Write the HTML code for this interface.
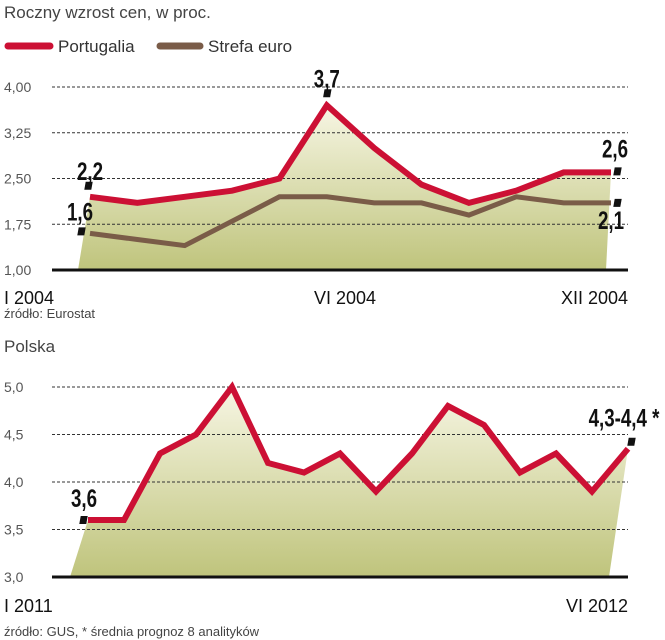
<!DOCTYPE html>
<html><head><meta charset="utf-8"><style>
html,body{margin:0;padding:0;background:#fff;}
svg{display:block;font-family:"Liberation Sans",sans-serif;}
</style></head><body>
<svg id="s" width="665" height="640" viewBox="0 0 665 640">
<defs>
<linearGradient id="g" x1="0" y1="0" x2="0" y2="1">
<stop offset="0" stop-color="#f7f6e4"/><stop offset="1" stop-color="#bfc47c"/>
</linearGradient>
</defs>
<text x="4" y="18" font-size="17" fill="#444">Roczny wzrost cen, w proc.</text>
<g>
<line x1="8" y1="46" x2="50" y2="46" stroke="#cc1034" stroke-width="7" stroke-linecap="round"/>
<text x="58" y="52" font-size="17" fill="#333">Portugalia</text>
<line x1="160" y1="46" x2="200" y2="46" stroke="#7a5c48" stroke-width="7" stroke-linecap="round"/>
<text x="208" y="52" font-size="17" fill="#333">Strefa euro</text>
</g>
<g id="top"></g>
<text x="4" y="318" font-size="13" fill="#444">źródło: Eurostat</text>
<text x="4" y="352" font-size="17" fill="#444">Polska</text>
<g id="bot"></g>
<text x="4" y="636" font-size="13" fill="#444">źródło: GUS, * średnia prognoz 8 analityków</text>
</svg>
<script>
const topTicks=["4,00","3,25","2,50","1,75","1,00"];
const topTickVals=[4,3.25,2.5,1.75,1];
const portugal=[2.2,2.1,2.2,2.3,2.5,3.7,3.0,2.4,2.1,2.3,2.6,2.6];
const euro=[1.6,1.5,1.4,1.8,2.2,2.2,2.1,2.1,1.9,2.2,2.1,2.1];
const topXLabels=["I 2004","VI 2004","XII 2004"];
const botTicks=["5,0","4,5","4,0","3,5","3,0"];
const botTickVals=[5,4.5,4,3.5,3];
const polska=[3.6,3.6,4.3,4.5,5.0,4.2,4.1,4.3,3.9,4.3,4.8,4.6,4.1,4.3,3.9,4.35];
const botXLabels=["I 2011","VI 2012"];
const NS="http://www.w3.org/2000/svg";
function mk(p,t,a){const e=document.createElementNS(NS,t);for(const k in a)e.setAttribute(k,a[k]);p.appendChild(e);return e;}
function chart(g,cfg){
 const y=v=>cfg.y0+(cfg.vmax-v)/(cfg.vmax-cfg.vmin)*(cfg.y1-cfg.y0);
 const n=cfg.series[0].length;
 const x=i=>cfg.x0+i*(cfg.x1-cfg.x0)/(n-1);
 const top=cfg.series[0];
 let d=`M${cfg.fl},${y(cfg.vmin)} L${x(0)},${y(top[0])}`;
 top.forEach((v,i)=>{d+=` L${x(i)},${y(v)}`;});
 d+=` L${cfg.fr},${y(cfg.vmin)} Z`;
 const f=mk(g,"path",{d,fill:"url(#g)"});
 
 
 cfg.tickVals.forEach((v,i)=>{
  if(v!==cfg.vmin){const l=mk(g,"line",{x1:cfg.gx0,x2:cfg.gx1,y1:y(v),y2:y(v),stroke:"#333","stroke-width":1,"stroke-dasharray":"3,2"});
  
  }
  const t=mk(g,"text",{x:4,y:y(v)+5,"font-size":14,fill:"#555"});t.textContent=cfg.ticks[i];
  
  
 });
 const b=mk(g,"line",{x1:cfg.gx0,x2:cfg.gx1,y1:y(cfg.vmin),y2:y(cfg.vmin),stroke:"#111","stroke-width":3});
 
 
 cfg.series.slice().reverse().forEach((s,k)=>{
  const idx=cfg.series.length-1-k;
  const pl=mk(g,"polyline",{points:s.map((v,i)=>x(i)+","+y(v)).join(" "),fill:"none",stroke:cfg.colors[idx],"stroke-width":cfg.widths[idx],"stroke-linejoin":"miter"});
  
  
 });
 cfg.xlabels.forEach((l,i)=>{
  const t=mk(g,"text",{x:cfg.xlx[i],y:cfg.xly,"font-size":18,fill:"#111","text-anchor":cfg.xla[i]});t.textContent=l;
  
  
 });
 cfg.anns.forEach(a=>{
  const s=cfg.series[a.s];const px=x(a.i),py=y(s[a.i]);
  const m=mk(g,"rect",{x:px+a.mx-3,y:py+a.my-4,width:7,height:8,fill:"#111",transform:`skewX(-10)`,"transform-origin":`${px+a.mx} ${py+a.my}`});
  
  
  const t=mk(g,"text",{x:px+a.tx,y:py+a.ty,"font-size":25,"font-weight":"bold",fill:"#111","text-anchor":"middle",transform:`scale(0.75,1)`,"transform-origin":`${px+a.tx} ${py+a.ty}`});
  t.textContent=a.text;
  
  
 });
}
chart(document.getElementById("top"),{vmin:1,vmax:4,y0:87,y1:270,x0:90,x1:611,gx0:52,gx1:628,fl:78,fr:606,
 series:[portugal,euro],colors:["#cc1034","#7a5c48"],widths:[6,5],names:["line-portugalia","line-strefa-euro"],
 ticks:topTicks,tickVals:topTickVals,xlabels:topXLabels,xlx:[4,345,628],xla:["start","middle","end"],xly:304,
 anns:[{s:0,i:0,mx:-2,my:-11,tx:0,ty:-17,text:"2,2"},{s:1,i:0,mx:-9,my:-2,tx:-10,ty:-13,text:"1,6"},
 {s:0,i:5,mx:0,my:-12,tx:0,ty:-18,text:"3,7"},{s:0,i:11,mx:6,my:-1,tx:4,ty:-15,text:"2,6"},{s:1,i:11,mx:6,my:0,tx:0,ty:26,text:"2,1"}]});
chart(document.getElementById("bot"),{vmin:3,vmax:5,y0:387,y1:577,x0:88,x1:628,gx0:52,gx1:628,fl:70,fr:609,
 series:[polska],colors:["#cc1034"],widths:[6],names:["line-polska"],
 ticks:botTicks,tickVals:botTickVals,xlabels:botXLabels,xlx:[4,628],xla:["start","end"],xly:612,
 anns:[{s:0,i:0,mx:-5,my:0,tx:-4,ty:-13,text:"3,6"},{s:0,i:15,mx:3,my:-7,tx:-4,ty:-22,text:"4,3-4,4 *"}]});
</script>
</body></html>
